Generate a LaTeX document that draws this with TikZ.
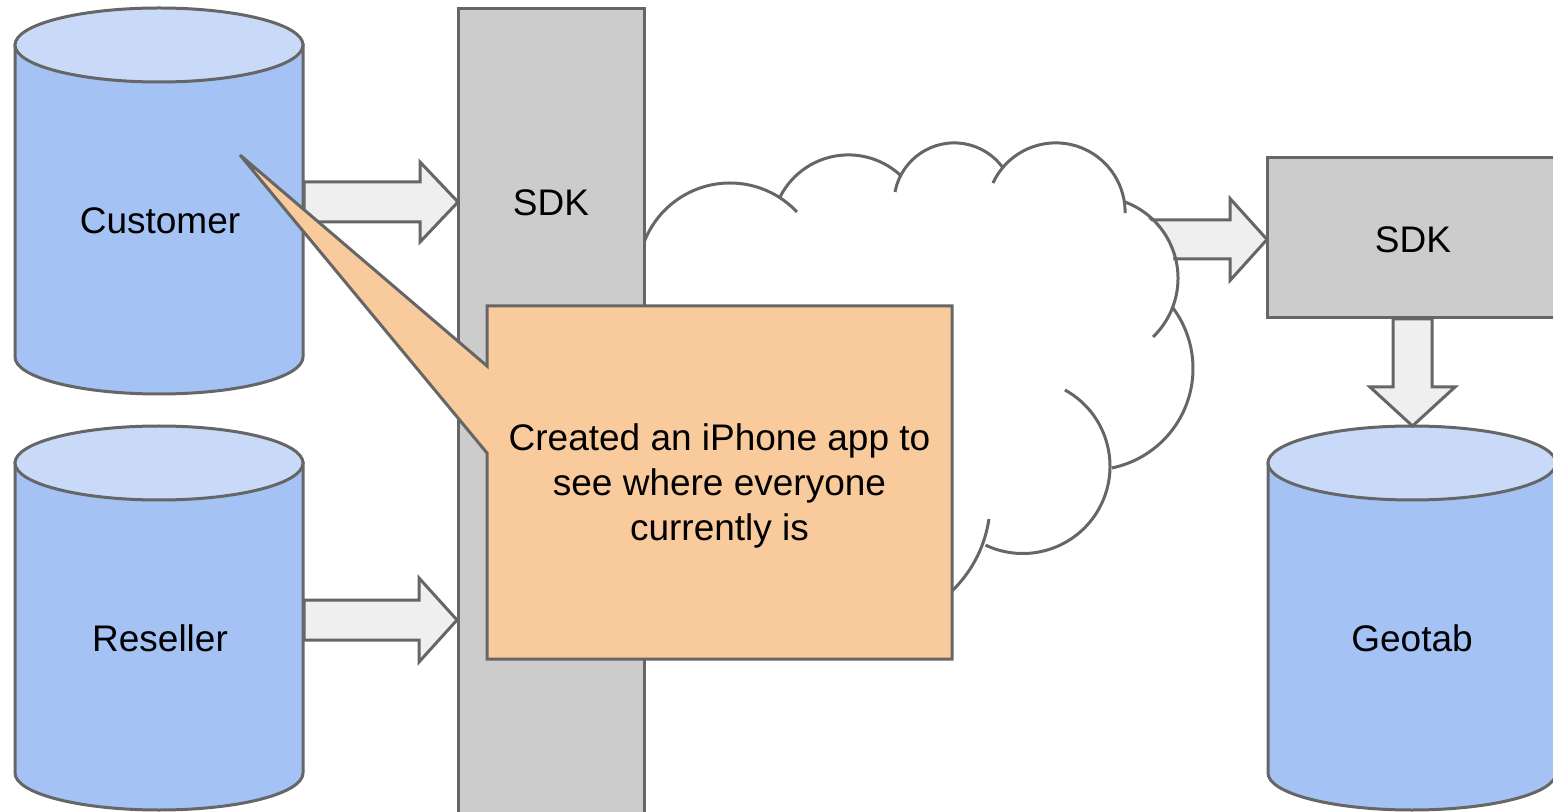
\documentclass[tikz,border=0pt]{standalone}
\usepackage{fontspec}
\setmainfont{Liberation Sans}
\definecolor{linegray}{HTML}{666666}
\definecolor{cylbody}{HTML}{A4C2F4}
\definecolor{cyltop}{HTML}{C9DAF8}
\definecolor{sdkfill}{HTML}{CCCCCC}
\definecolor{arrowfill}{HTML}{EFEFEF}
\definecolor{notefill}{HTML}{F9CB9C}
\tikzset{
  outline/.style={draw=linegray, line width=1.5pt, line join=miter},
  blockarr/.style={outline, fill=arrowfill},
  cloudline/.style={draw=linegray, line width=1.5pt},
  lbl/.style={font=\fontsize{18.5}{22.5}\selectfont, text=black, inner sep=0pt},
}
% cloud lobe: centre x, centre y, radius, start angle, end angle
\newcommand\cloudlobe[5]{\draw[cloudline] ([shift={(#4:#3)}]#1,#2) arc[start angle=#4,end angle=#5,radius=#3];}
% database cylinder: left x, right x, top centre y, bottom centre y
\newcommand\dbcylinder[4]{%
  \pgfmathsetmacro\cylcx{(#1+#2)/2}%
  \pgfmathsetmacro\cylrx{(#2-#1)/2}%
  \filldraw[outline, fill=cylbody] (#1,#3) -- (#1,#4) arc[start angle=180,end angle=0,x radius=\cylrx,y radius=37] -- (#2,#3) -- cycle;
  \filldraw[outline, fill=cyltop] (\cylcx,#3) ellipse[x radius=\cylrx,y radius=37];
}
% right block arrow: start x, tip x, centre y, head x, body half width, head half width
\newcommand\rightblock[6]{%
  \filldraw[blockarr] (#1,#3-#5) -- (#4,#3-#5) -- (#4,#3-#6) -- (#2,#3) -- (#4,#3+#6) -- (#4,#3+#5) -- (#1,#3+#5) -- cycle;}
\begin{document}
\begin{tikzpicture}[x=0.5pt,y=-0.5pt]
\useasboundingbox (0,0) rectangle (1553,812);

% arrow from cloud to right SDK (behind the cloud)
\rightblock{1140}{1267}{239.5}{1230}{19.5}{41}
\fill[white] (1096.6,278.3) circle[radius=79];

% cloud
\cloudlobe{730}{274.9}{91.9}{-172}{-43.2}
\cloudlobe{848.4}{231.5}{76.6}{-153.2}{-47.6}
\cloudlobe{954.2}{203.1}{60.2}{-169.4}{-35.7}
\cloudlobe{1055.8}{212.2}{69.3}{-155.1}{0.7}
\cloudlobe{1096.6}{278.3}{81.4}{-69.6}{46.1}
\cloudlobe{1091.5}{368.5}{101.5}{-36.6}{78.4}
\cloudlobe{1022.8}{466.3}{87.2}{-61.1}{115.3}
\cloudlobe{864.8}{500.7}{125.5}{8.4}{70}

% left SDK bar
\filldraw[outline, fill=sdkfill] (458,9) rectangle (644,840);
\node[lbl] (sdkleft) at (551,203) {SDK};

% right SDK box
\filldraw[outline, fill=sdkfill] (1267,158) rectangle (1559,318);
\node[lbl] (sdkright) at (1413,240) {SDK};

% databases
\dbcylinder{15}{303}{45}{357}
\node[lbl] (customer) at (160,221) {Customer};
\dbcylinder{15}{303}{463}{773}
\node[lbl] (reseller) at (160,638) {Reseller};
\dbcylinder{1268}{1556}{463}{773}
\node[lbl] (geotab) at (1412,638) {Geotab};

% block arrows
\rightblock{304}{458}{202}{420}{20}{40}
\rightblock{304}{457}{620}{419}{20}{42}
\filldraw[blockarr] (1393,319) -- (1393,387) -- (1370,387) -- (1412.5,426) -- (1455,387) -- (1432,387) -- (1432,319) -- cycle;

% callout
\coordinate (tailtip) at (240,155);
\filldraw[outline, fill=notefill] (487,306) -- (952,306) -- (952,659) -- (487,659) -- (487,453) -- (tailtip) -- (487,366) -- cycle;
\node[lbl, align=center] (note) at (719.5,486) {Created an iPhone app to\\see where everyone\\currently is};
\end{tikzpicture}
\end{document}
